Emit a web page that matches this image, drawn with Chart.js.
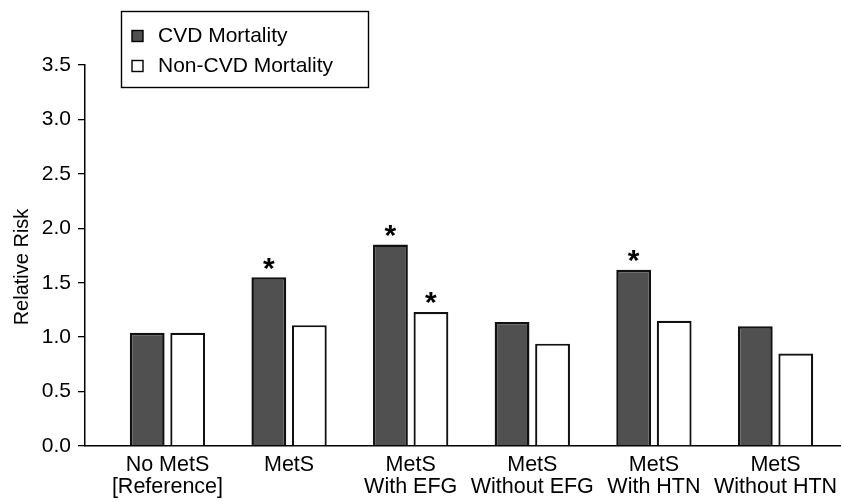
<!DOCTYPE html>
<html>
<head>
<meta charset="utf-8">
<script src="https://cdn.jsdelivr.net/npm/chart.js@4.4.1/dist/chart.umd.min.js"></script>
<style>
  html, body { margin: 0; padding: 0; background: #fff; }
  #wrap { width: 842px; height: 502px; position: relative; }
</style>
</head>
<body>
<div id="wrap"><canvas id="c" width="842" height="502"></canvas></div>
<script>
// ---- data ----
const categories = [
  ["No MetS", "[Reference]"],
  ["MetS"],
  ["MetS", "With EFG"],
  ["MetS", "Without EFG"],
  ["MetS", "With HTN"],
  ["MetS", "Without HTN"]
];
const seriesLabels = ["CVD Mortality", "Non-CVD Mortality"];
const cvdValues    = [1.04, 1.55, 1.85, 1.14, 1.62, 1.10];
const nonCvdValues = [1.04, 1.11, 1.23, 0.94, 1.15, 0.85];
const cvdSignificant    = [false, true, true, false, true, false];
const nonCvdSignificant = [false, false, true, false, false, false];
const yTickValues = [0, 0.5, 1.0, 1.5, 2.0, 2.5, 3.0, 3.5];
const yAxisTitle = "Relative Risk";

const FONT = "'Liberation Sans', Arial, Helvetica, sans-serif";

const toPoints = arr => arr.map((v, i) => ({ x: i, y: v }));

const significancePlugin = {
  id: 'significance',
  afterDatasetsDraw(chart) {
    const ctx = chart.ctx;
    const flags = [cvdSignificant, nonCvdSignificant];
    ctx.save();
    ctx.fillStyle = '#000';
    ctx.font = "bold 30px " + FONT;
    ctx.textAlign = 'center';
    ctx.textBaseline = 'middle';
    flags.forEach((f, di) => {
      const meta = chart.getDatasetMeta(di);
      f.forEach((sig, i) => {
        if (!sig) return;
        const el = meta.data[i];
        ctx.fillText('*', el.x, el.y - 8);
      });
    });
    ctx.restore();
  }
};

const yTitlePlugin = {
  id: 'yTitle',
  afterDraw(chart) {
    const ctx = chart.ctx;
    ctx.save();
    ctx.translate(22, 267);
    ctx.rotate(-Math.PI / 2);
    ctx.font = "20px " + FONT;
    ctx.fillStyle = '#000';
    ctx.textAlign = 'center';
    ctx.textBaseline = 'middle';
    ctx.fillText(yAxisTitle, 0, 0);
    ctx.restore();
  }
};

const boxLegendPlugin = {
  id: 'boxLegend',
  afterDraw(chart) {
    const ctx = chart.ctx;
    const x0 = 121, y0 = 11, w = 247, h = 76;
    ctx.save();
    ctx.fillStyle = '#fff';
    ctx.fillRect(x0, y0, w, h);
    ctx.strokeStyle = '#000';
    ctx.lineWidth = 1.4;
    ctx.strokeRect(x0 + 0.5, y0 + 0.5, w, h);
    ctx.font = "21px " + FONT;
    ctx.textBaseline = 'middle';
    ctx.textAlign = 'left';
    chart.data.datasets.forEach((ds, i) => {
      const cy = 36 + i * 30;
      ctx.fillStyle = ds.backgroundColor;
      ctx.fillRect(132, cy - 5.5, 11, 11);
      ctx.strokeStyle = '#000';
      ctx.lineWidth = 1.4;
      ctx.strokeRect(132, cy - 5.5, 11, 11);
      ctx.fillStyle = '#000';
      ctx.fillText(ds.label, 158, cy);
    });
    ctx.restore();
  }
};

new Chart(document.getElementById('c'), {
  type: 'bar',
  data: {
    datasets: [
      {
        label: seriesLabels[0],
        data: toPoints(cvdValues),
        backgroundColor: '#505050',
        borderColor: '#111111',
        borderWidth: 2.5
      },
      {
        label: seriesLabels[1],
        data: toPoints(nonCvdValues),
        backgroundColor: '#ffffff',
        borderColor: '#111111',
        borderWidth: 2.2
      }
    ]
  },
  options: {
    responsive: false,
    animation: false,
    devicePixelRatio: 1,
    categoryPercentage: 0.666,
    barPercentage: 0.86,
    layout: { padding: { top: 65, right: 2, left: 0, bottom: 0 } },
    plugins: {
      legend: { display: false },
      tooltip: { enabled: false }
    },
    scales: {
      x: {
        type: 'linear',
        offset: false,
        min: -0.678,
        max: 5.53,
        afterBuildTicks: s => { s.ticks = categories.map((_, i) => ({ value: i })); },
        afterFit: s => { s.height = 56; s.paddingLeft = 0; s.paddingRight = 0; },
        grid: { display: false, drawTicks: false },
        border: { display: true, color: '#000', width: 1.5 },
        ticks: {
          autoSkip: false,
          maxRotation: 0,
          padding: 8,
          color: '#000',
          font: { family: FONT, size: 21.5, lineHeight: 1.02 },
          callback: v => categories[v]
        }
      },
      y: {
        min: 0,
        max: 3.5,
        afterBuildTicks: s => { s.ticks = yTickValues.map(v => ({ value: v })); },
        afterFit: s => { s.width = 85; },
        grid: { drawOnChartArea: false, drawTicks: true, tickLength: 7, color: '#000', lineWidth: 1.3 },
        border: { display: true, color: '#000', width: 1.5 },
        ticks: {
          padding: 7,
          color: '#000',
          font: { family: FONT, size: 21 },
          callback: v => v.toFixed(1)
        },
        title: { display: false }
      }
    }
  },
  plugins: [significancePlugin, yTitlePlugin, boxLegendPlugin]
});
</script>
</body>
</html>
